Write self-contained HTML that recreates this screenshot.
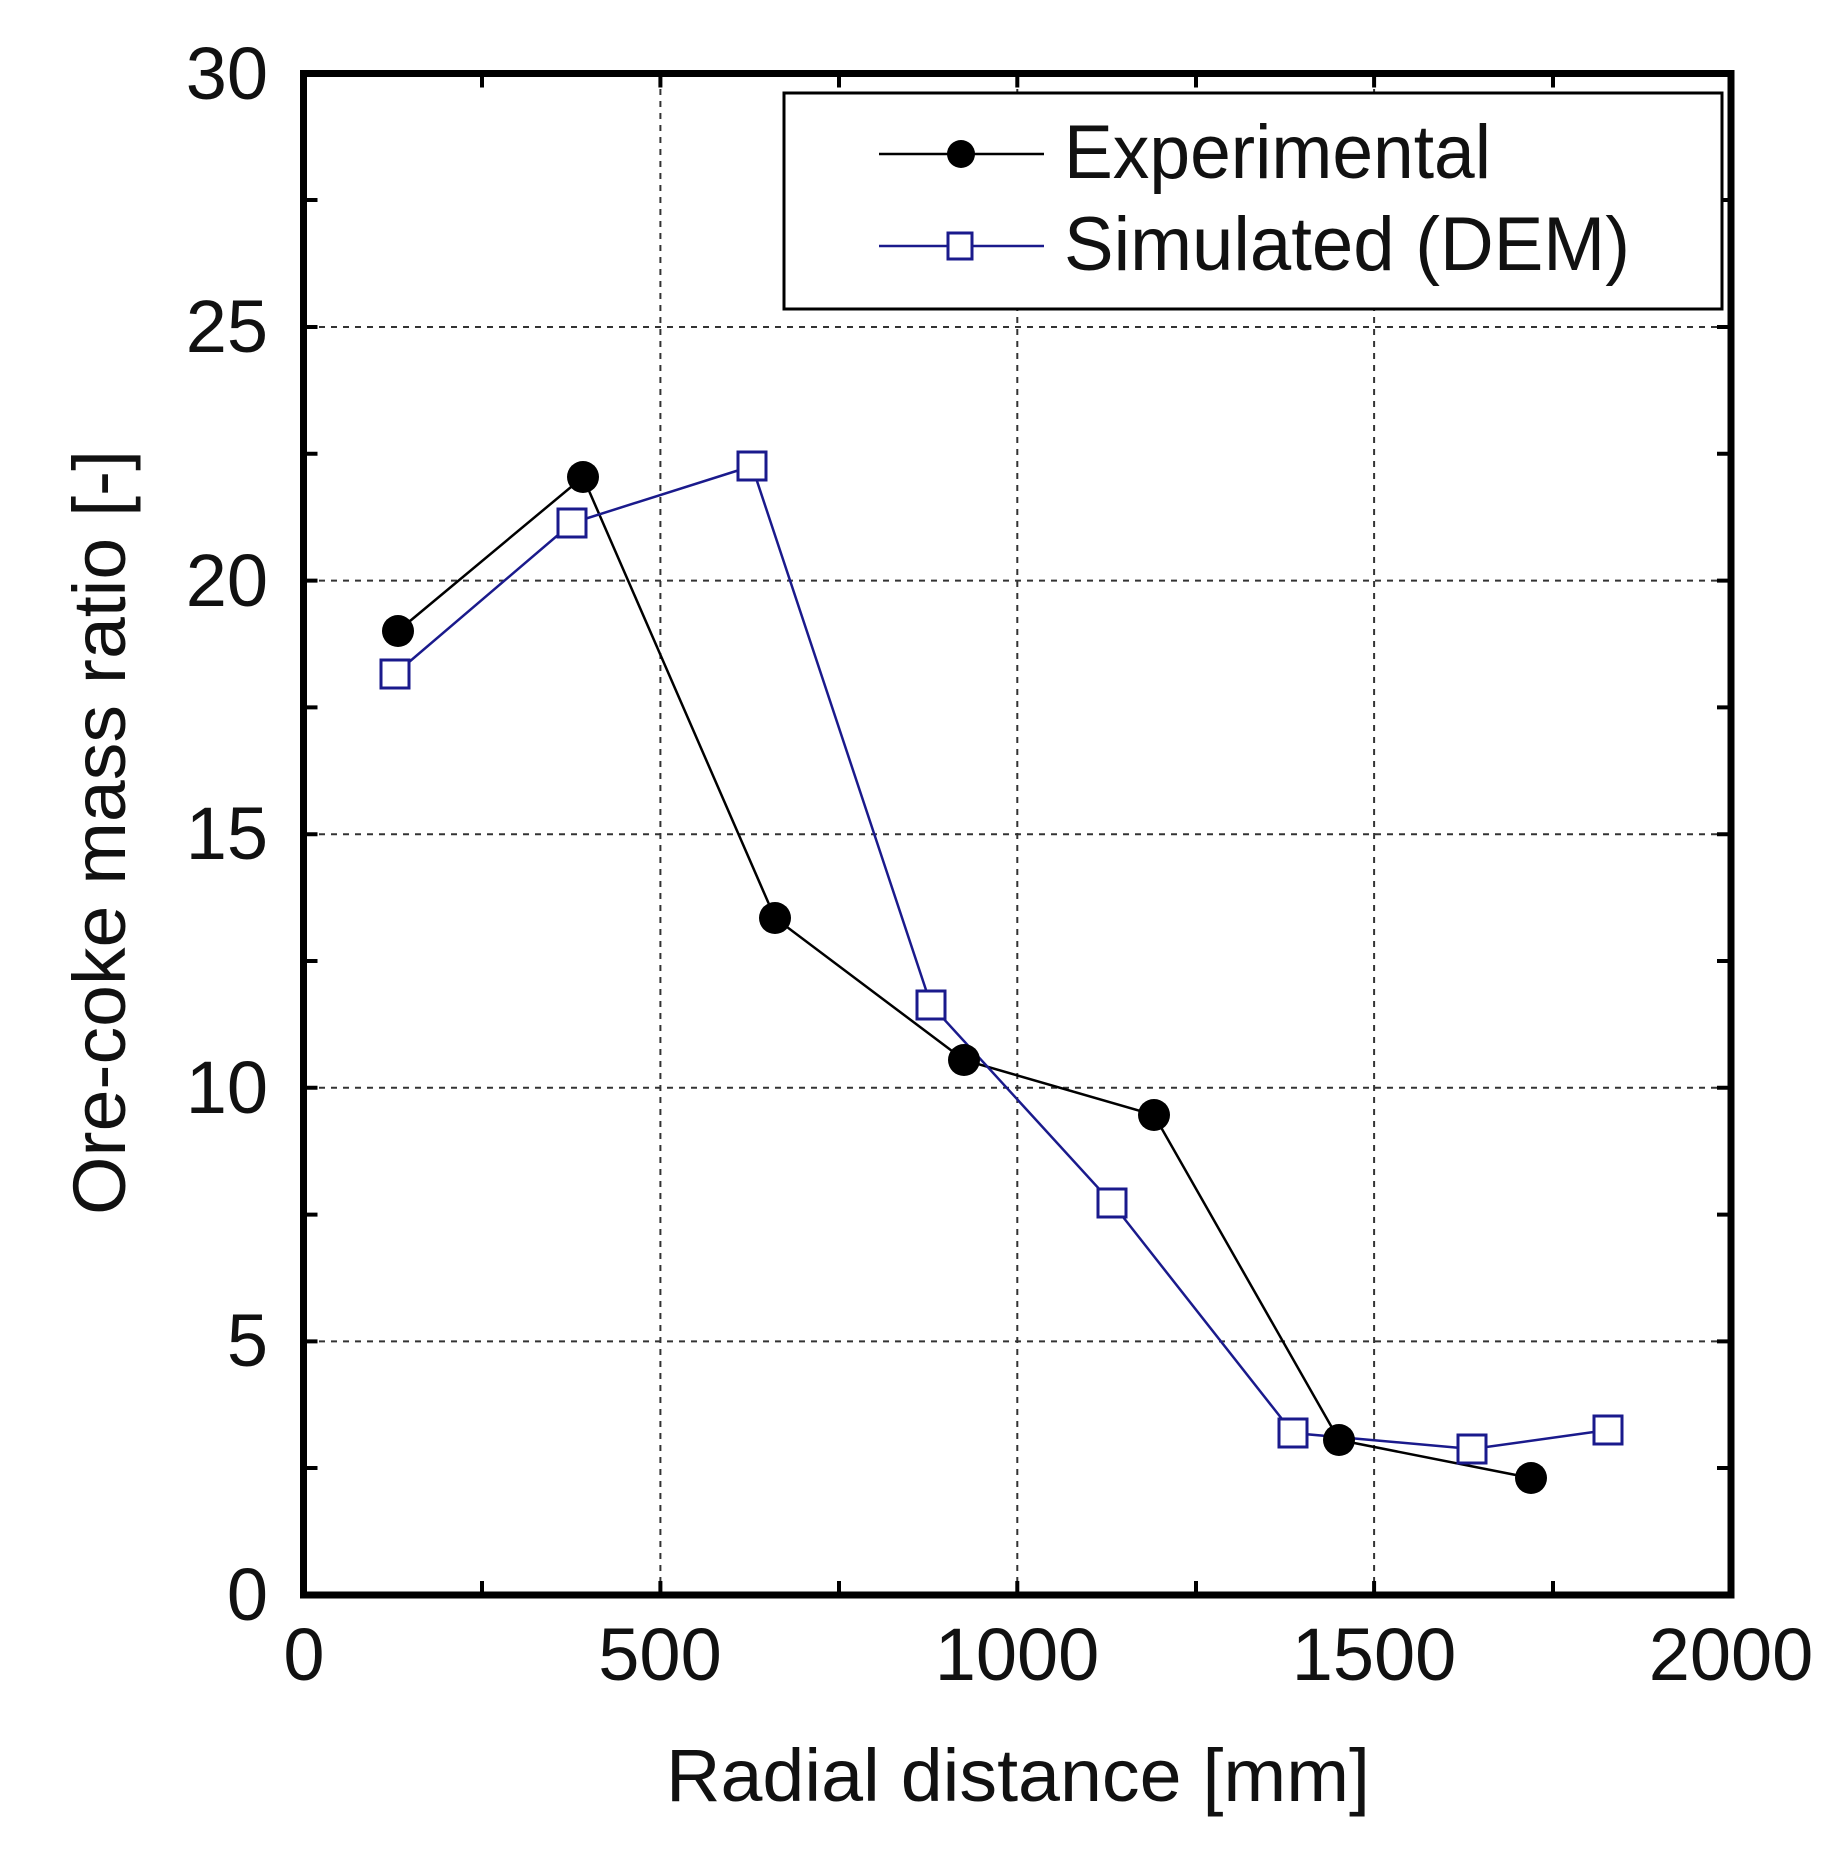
<!DOCTYPE html>
<html><head><meta charset="utf-8"><style>
html,body{margin:0;padding:0;background:#fff;}
svg{display:block;}
text{font-family:"Liberation Sans",Arial,sans-serif;fill:#111;}
</style></head><body>
<svg width="1840" height="1853" viewBox="0 0 1840 1853" xmlns="http://www.w3.org/2000/svg">
<rect width="1840" height="1853" fill="#fff"/>
<!-- grid -->
<g stroke="#333" stroke-width="2" stroke-dasharray="6,6">
<line x1="660.4" y1="77" x2="660.4" y2="1592"/>
<line x1="1017.3" y1="77" x2="1017.3" y2="1592"/>
<line x1="1374.1" y1="77" x2="1374.1" y2="1592"/>
<line x1="307" y1="1341.4" x2="1728" y2="1341.4"/>
<line x1="307" y1="1087.8" x2="1728" y2="1087.8"/>
<line x1="307" y1="834.2" x2="1728" y2="834.2"/>
<line x1="307" y1="580.6" x2="1728" y2="580.6"/>
<line x1="307" y1="327" x2="1728" y2="327"/>
</g>
<!-- ticks -->
<g stroke="#000" stroke-width="4">
<path d="M482,1595v-14M660.4,1595v-14M839,1595v-14M1017.3,1595v-14M1196,1595v-14M1374.1,1595v-14M1553,1595v-14
M482,73.5v14M660.4,73.5v14M839,73.5v14M1017.3,73.5v14M1196,73.5v14M1374.1,73.5v14M1553,73.5v14
M303.5,1468h14M303.5,1341.4h14M303.5,1214.6h14M303.5,1087.8h14M303.5,961h14M303.5,834.2h14M303.5,707.4h14M303.5,580.6h14M303.5,453.8h14M303.5,327h14M303.5,200h14
M1731,1468h-14M1731,1341.4h-14M1731,1214.6h-14M1731,1087.8h-14M1731,961h-14M1731,834.2h-14M1731,707.4h-14M1731,580.6h-14M1731,453.8h-14M1731,327h-14M1731,200h-14"/>
</g>
<rect x="303.5" y="73.5" width="1427.5" height="1521.5" fill="none" stroke="#000" stroke-width="7"/>
<!-- legend -->
<rect x="784" y="93" width="938" height="216" fill="#fff" stroke="#000" stroke-width="3"/>
<line x1="879" y1="154" x2="1044" y2="154" stroke="#000" stroke-width="2.5"/>
<circle cx="961" cy="154" r="14" fill="#000"/>
<line x1="879" y1="246" x2="1044" y2="246" stroke="#1a1a8c" stroke-width="2.5"/>
<rect x="948" y="233" width="24" height="26" fill="#fff" stroke="#1a1a8c" stroke-width="3"/>
<text x="1064" y="178" font-size="76" textLength="427" lengthAdjust="spacingAndGlyphs">Experimental</text>
<text x="1064" y="270" font-size="76" textLength="566" lengthAdjust="spacingAndGlyphs">Simulated (DEM)</text>
<!-- series -->
<polyline fill="none" stroke="#000" stroke-width="2.5" points="398,631 583,477 775,918 964,1060 1154,1115 1339,1440 1531,1478"/>
<polyline fill="none" stroke="#1a1a8c" stroke-width="2.5" points="395,674 572,523 752,466 931,1005 1112,1203 1293,1433 1472,1449 1608,1430"/>
<g fill="#000">
<circle cx="398" cy="631" r="16"/><circle cx="583" cy="477" r="16"/><circle cx="775" cy="918" r="16"/>
<circle cx="964" cy="1060" r="16"/><circle cx="1154" cy="1115" r="16"/><circle cx="1339" cy="1440" r="16"/><circle cx="1531" cy="1478" r="16"/>
</g>
<g fill="#fff" stroke="#1a1a8c" stroke-width="3">
<rect x="381" y="660" width="28" height="28"/><rect x="558" y="509" width="28" height="28"/><rect x="738" y="452" width="28" height="28"/>
<rect x="917" y="991" width="28" height="28"/><rect x="1098" y="1189" width="28" height="28"/><rect x="1279" y="1419" width="28" height="28"/>
<rect x="1458" y="1435" width="28" height="28"/><rect x="1594" y="1416" width="28" height="28"/>
</g>
<!-- y labels -->
<g font-size="74" text-anchor="end">
<text x="268" y="1620">0</text><text x="268" y="1366">5</text><text x="268" y="1113">10</text>
<text x="268" y="859">15</text><text x="268" y="606">20</text><text x="268" y="352">25</text><text x="268" y="99">30</text>
</g>
<g font-size="74" text-anchor="middle">
<text x="304" y="1680">0</text><text x="660" y="1680">500</text><text x="1017" y="1680">1000</text>
<text x="1374" y="1680">1500</text><text x="1731" y="1680">2000</text>
</g>
<text x="666" y="1801" font-size="74" textLength="704" lengthAdjust="spacingAndGlyphs">Radial distance  [mm]</text>
<text transform="translate(125,1215) rotate(-90)" font-size="74" textLength="765" lengthAdjust="spacingAndGlyphs">Ore-coke mass ratio  [-]</text>
</svg>
</body></html>
